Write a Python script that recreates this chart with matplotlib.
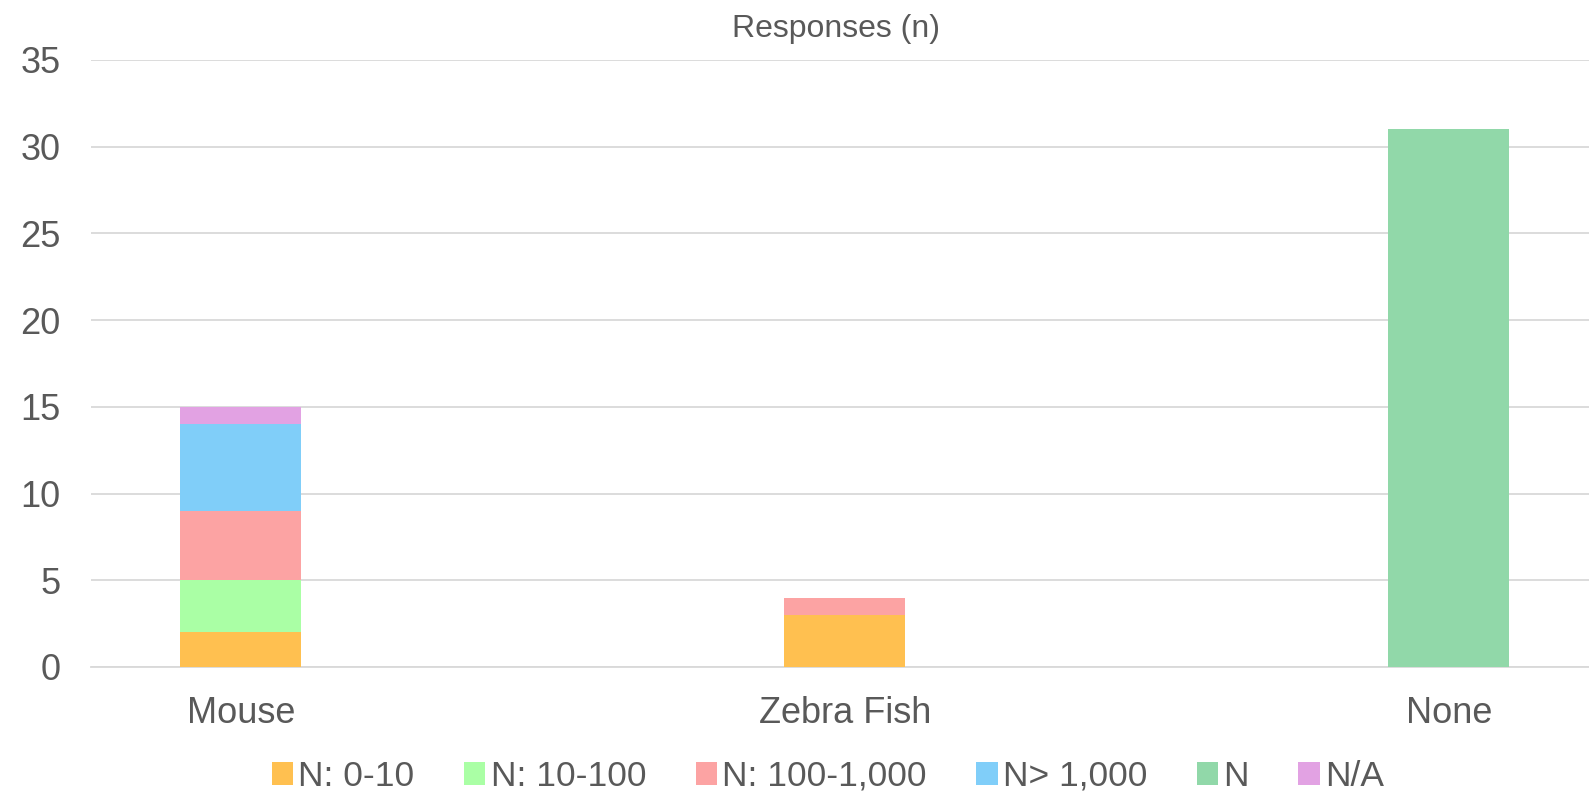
import matplotlib
matplotlib.use("Agg")
import matplotlib.pyplot as plt
import numpy as np

categories = ["Mouse", "Zebra Fish", "None"]
series_names = ["N: 0-10", "N: 10-100", "N: 100-1,000", "N> 1,000", "N", "N/A"]
n_0_10 = [2, 3, 0]
n_10_100 = [3, 0, 0]
n_100_1000 = [4, 1, 0]
n_gt_1000 = [5, 0, 0]
n_n = [0, 0, 31]
n_na = [1, 0, 0]
colors = ["#FFC050", "#AAFFA5", "#FCA3A3", "#80CEF9", "#91D8A9", "#E2A2E3"]

plt.rcParams['font.family'] = ['Liberation Sans', 'DejaVu Sans']
text_color = "#595959"

fig = plt.figure(figsize=(15.89, 7.93), dpi=100)
ax = fig.add_axes([91/1589, 1-667/793, 1-91/1589, (667-60)/793])

x = np.arange(len(categories))
bottom = np.zeros(len(categories))
for name, vals, c in zip(series_names, [n_0_10, n_10_100, n_100_1000, n_gt_1000, n_n, n_na], colors):
    ax.bar(x, vals, 0.2, bottom=bottom, color=c, label=name, zorder=3)
    bottom += np.array(vals)

ax.set_xlim(-0.248, 2.232)
ax.set_ylim(0, 35)
ax.set_yticks(range(0, 36, 5))
ax.set_xticks(x)
ax.set_xticklabels(categories)
ax.grid(axis="y", color="#D9D9D9", linewidth=1.3, zorder=0)
for s in ["top", "right", "left"]:
    ax.spines[s].set_visible(False)
ax.spines["bottom"].set_color("#D9D9D9")
ax.spines["bottom"].set_linewidth(1.3)
ax.tick_params(length=0, labelsize=26, colors=text_color)
ax.tick_params(axis="y", pad=22)
ax.tick_params(axis="x", pad=21)

fig.text(0.526, 1-29/793, "Responses (n)", ha="center", va="center", fontsize=23, color=text_color)

fig.legend(loc="lower center", bbox_to_anchor=(0.521, -0.04), ncol=6, frameon=False,
           fontsize=25.5, handlelength=0.6, handleheight=0.6, handletextpad=0.15,
           columnspacing=1.4, labelcolor=text_color)

fig.savefig("out.png", dpi=100)
